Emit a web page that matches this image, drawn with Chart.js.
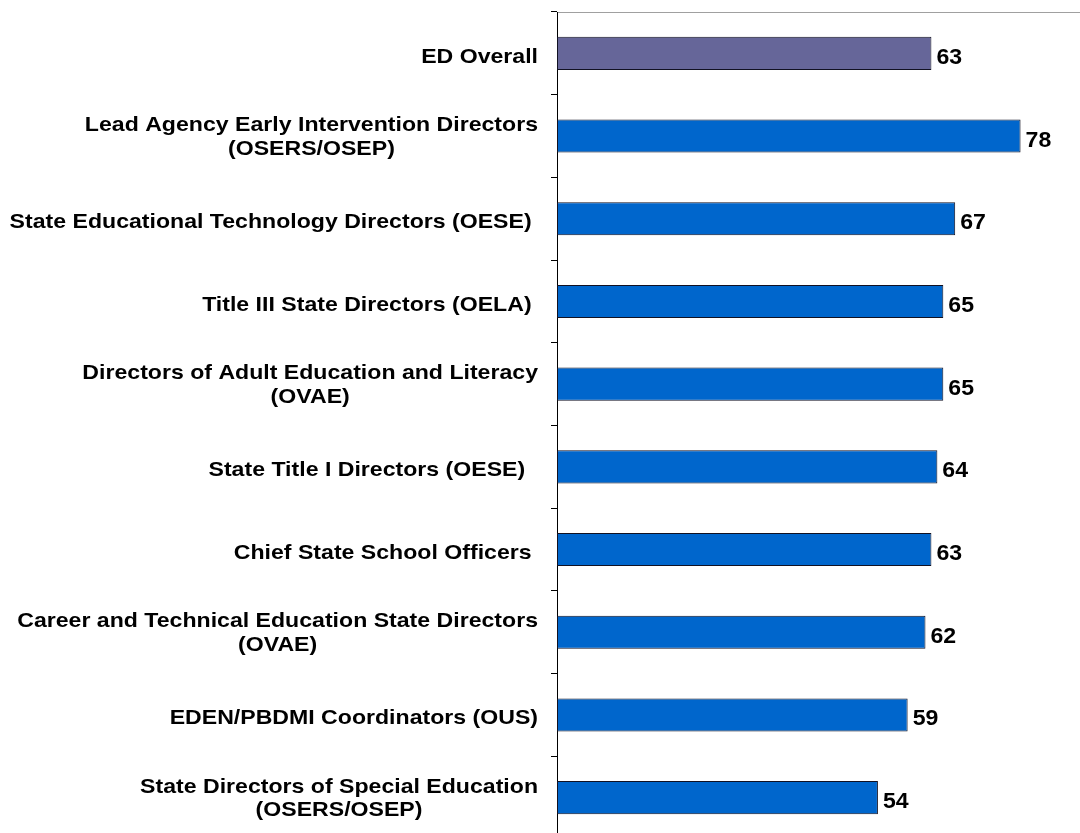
<!DOCTYPE html>
<html>
<head>
<meta charset="utf-8">
<script src="https://cdn.jsdelivr.net/npm/chart.js@4.4.0/dist/chart.umd.min.js"></script>
<style>
  html, body { margin: 0; padding: 0; background: #fff; overflow: hidden; }
</style>
</head>
<body>
<canvas id="scoreChart" width="1080" height="839"></canvas>
<script>
// ============================
// DATA
// ============================
const categories = [
    ["ED Overall"],
    ["Lead Agency Early Intervention Directors", "(OSERS/OSEP)"],
    ["State Educational Technology Directors (OESE) "],
    ["Title III State Directors (OELA) "],
    ["Directors of Adult Education and Literacy", "(OVAE)"],
    ["State Title I Directors (OESE)  "],
    ["Chief State School Officers "],
    ["Career and Technical Education State Directors", "(OVAE)"],
    ["EDEN/PBDMI Coordinators (OUS)"],
    ["State Directors of Special Education", "(OSERS/OSEP)"]
];
const scores = [63, 78, 67, 65, 65, 64, 63, 62, 59, 54];
const barColors = ["#666699", "#0066CC", "#0066CC", "#0066CC", "#0066CC",
                   "#0066CC", "#0066CC", "#0066CC", "#0066CC", "#0066CC"];

const LABEL_FONT = "bold 21px 'Liberation Sans', Arial, sans-serif";
const VALUE_FONT = "bold 22px 'Liberation Sans', Arial, sans-serif";

// text drawn a bit wider than normal, like the original export
function stretchedText(ctx, text, x, y, sx) {
    ctx.save();
    ctx.translate(x, y);
    ctx.scale(sx, 1);
    ctx.fillText(text, 0, 0);
    ctx.restore();
}

// category labels (block right aligned, lines centred) and value labels
const labelPlugin = {
    id: "labelPlugin",
    afterDraw(chart) {
        const ctx = chart.ctx;
        const yScale = chart.scales.y;
        const meta = chart.getDatasetMeta(0);
        const sx = 1.1;
        const rightEdge = yScale.right - 19;

        ctx.save();
        ctx.fillStyle = "#000";
        ctx.textBaseline = "alphabetic";
        ctx.font = LABEL_FONT;

        categories.forEach((lines, i) => {
            const cy = yScale.getPixelForValue(i);
            if (lines.length === 1) {
                ctx.textAlign = "right";
                stretchedText(ctx, lines[0], rightEdge, cy + 9.5, sx);
            } else {
                const maxW = Math.max(...lines.map(l => ctx.measureText(l).width)) * sx;
                const cx = rightEdge - maxW / 2;
                ctx.textAlign = "center";
                stretchedText(ctx, lines[0], cx, cy - 5, sx);
                stretchedText(ctx, lines[1], cx, cy + 18.5, sx);
            }
        });

        ctx.font = VALUE_FONT;
        ctx.textAlign = "left";
        meta.data.forEach((bar, i) => {
            stretchedText(ctx, String(scores[i]), bar.x + 5, bar.y + 10.5, 1.05);
        });
        ctx.restore();
    }
};

const ctx = document.getElementById("scoreChart").getContext("2d");

new Chart(ctx, {
    type: "bar",
    data: {
        labels: categories,
        datasets: [{
            data: scores,
            backgroundColor: barColors,
            borderColor: "#111122",
            borderWidth: 1,
            borderSkipped: false,
            barPercentage: 0.4,
            categoryPercentage: 1.0
        }]
    },
    options: {
        indexAxis: "y",
        responsive: false,
        animation: false,
        layout: { padding: { top: 12, left: 0, right: 0, bottom: 0 } },
        plugins: {
            legend: { display: false },
            tooltip: { enabled: false }
        },
        scales: {
            x: {
                position: "top",
                min: 0,
                max: 88,
                ticks: { display: false },
                grid: { display: false },
                border: { display: true, color: "#a0a0a0", width: 1 },
                afterFit: s => { s.height = 0; }
            },
            y: {
                ticks: { display: false },
                grid: {
                    drawOnChartArea: false,
                    drawTicks: true,
                    tickLength: 6,
                    color: "#000",
                    offset: true
                },
                border: { display: true, color: "#000", width: 1 },
                afterFit: s => { s.width = 557; }
            }
        }
    },
    plugins: [labelPlugin]
});
</script>
</body>
</html>
